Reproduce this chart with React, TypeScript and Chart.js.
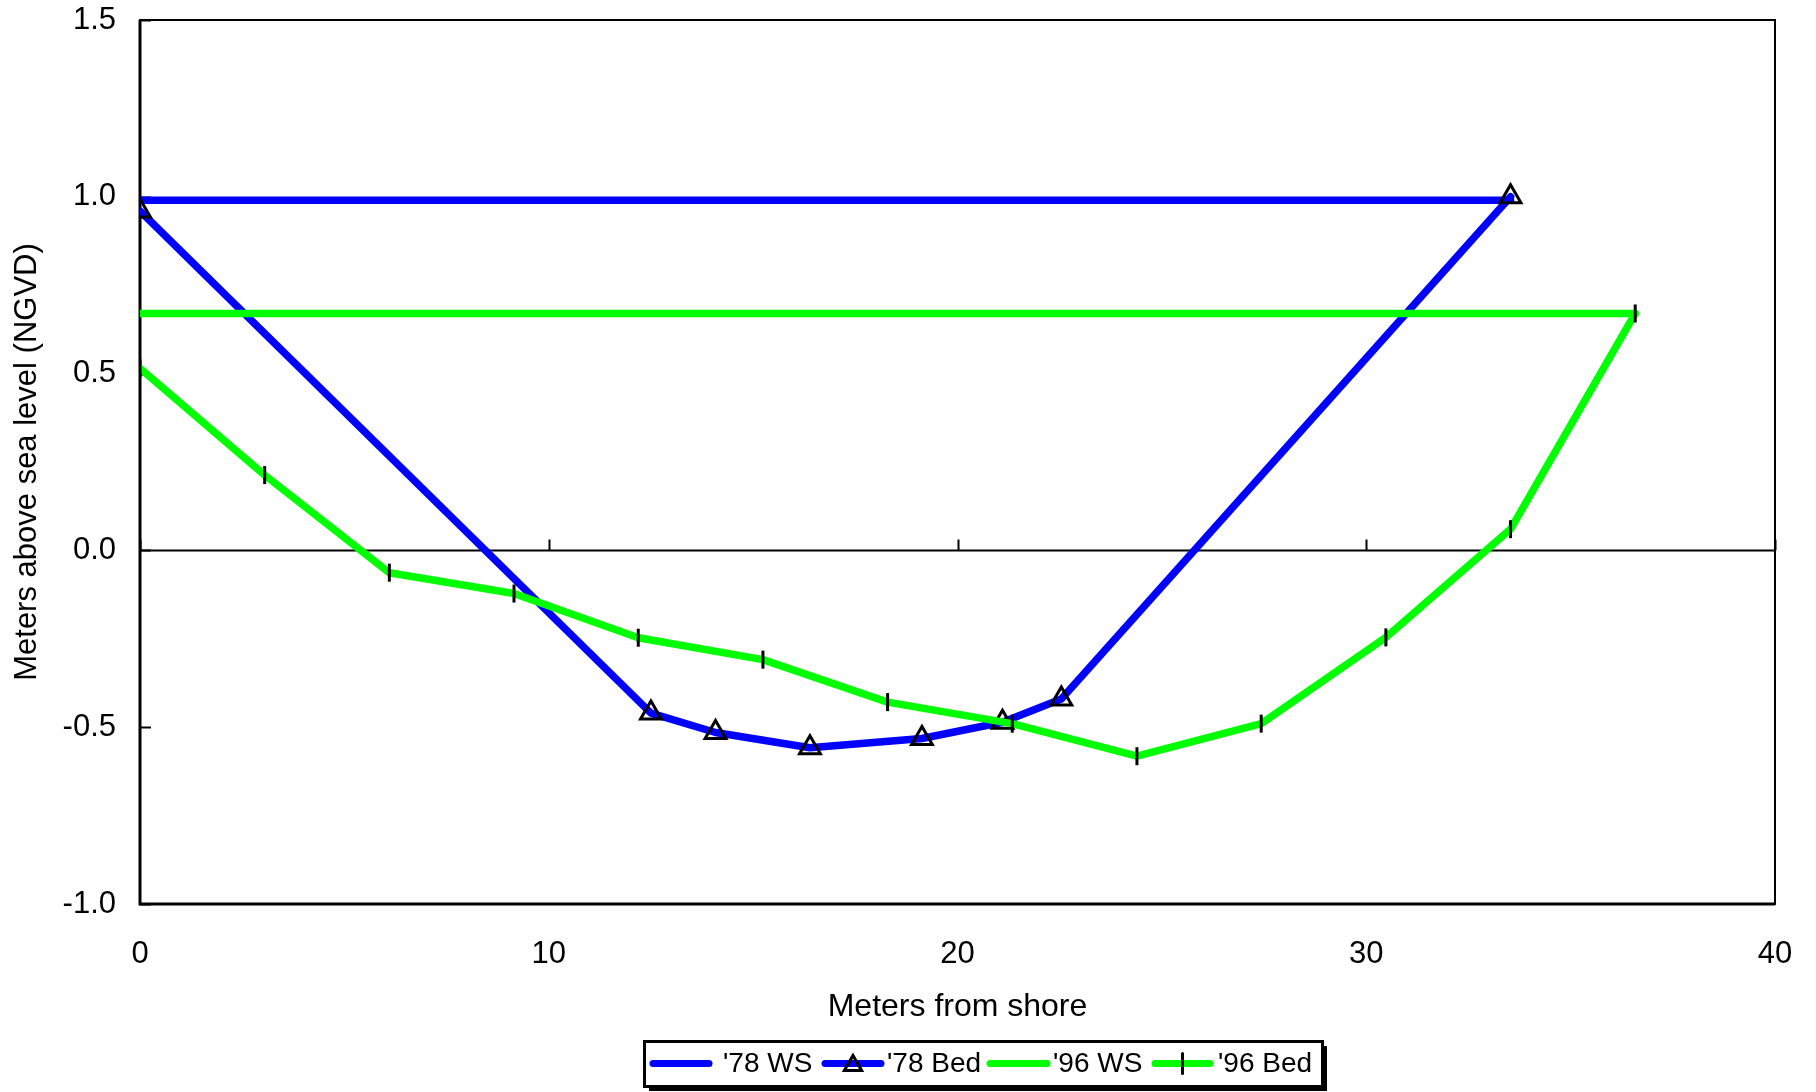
import React, { useEffect, useRef } from 'react';
import { Chart, registerables } from 'chart.js';

Chart.register(...registerables);

// ---- data (meters from shore, meters above sea level) ----
const ws78X = [0, 33.53];
const ws78Y = [0.99, 0.99];

const bed78X = [0, 12.5, 14.08, 16.39, 19.13, 21.1, 22.54, 33.53];
const bed78Y = [0.96, -0.46, -0.515, -0.558, -0.532, -0.486, -0.42, 1.0];

const ws96X = [0, 36.58];
const ws96Y = [0.67, 0.67];

const bed96X = [0, 3.05, 6.1, 9.15, 12.19, 15.24, 18.29, 21.34, 24.39, 27.43, 30.48, 33.53, 36.58];
const bed96Y = [0.515, 0.213, -0.063, -0.122, -0.247, -0.309, -0.429, -0.49, -0.582, -0.49, -0.246, 0.06, 0.67];

const seriesLabels = ["'78 WS", "'78 Bed", "'96 WS", "'96 Bed"];

const xTicks = [0, 10, 20, 30, 40];
const yTicks = [-1.0, -0.5, 0.0, 0.5, 1.0, 1.5];

const xTitle = 'Meters from shore';
const yTitle = 'Meters above sea level (NGVD)';

const FONT = '"Liberation Sans", Arial, Helvetica, sans-serif';
const BLUE = '#0000ff';
const GREEN = '#00ff00';

const toPts = (xs: number[], ys: number[]) => xs.map((x, i) => ({ x, y: ys[i] }));

function drawMarker(ctx: CanvasRenderingContext2D, style: string, x: number, y: number, r: number) {
  ctx.save();
  ctx.strokeStyle = '#000';
  ctx.lineWidth = 3;
  ctx.lineJoin = 'miter';
  ctx.beginPath();
  if (style === 'triangle') {
    ctx.moveTo(x, y - r);
    ctx.lineTo(x + r * 0.866, y + r * 0.5);
    ctx.lineTo(x - r * 0.866, y + r * 0.5);
    ctx.closePath();
  } else if (style === 'vline') {
    ctx.moveTo(x, y - r);
    ctx.lineTo(x, y + r);
  }
  ctx.stroke();
  ctx.restore();
}

const framePlugin = {
  id: 'frameAndTicks',
  beforeDatasetsDraw(chart: any) {
    const { ctx, chartArea: ca, scales } = chart;
    const xs = scales.x;
    const ys = scales.y;
    ctx.save();
    ctx.strokeStyle = '#000';
    // zero line
    const y0 = Math.round(ys.getPixelForValue(0)) + 0.5;
    ctx.lineWidth = 2;
    ctx.beginPath();
    ctx.moveTo(ca.left, y0);
    ctx.lineTo(ca.right, y0);
    ctx.stroke();
    // x tick marks on zero line (upward)
    xTicks.forEach((v) => {
      const px = Math.round(xs.getPixelForValue(v)) + 0.5;
      ctx.beginPath();
      ctx.moveTo(px, y0);
      ctx.lineTo(px, y0 - 11);
      ctx.stroke();
    });
    // y tick marks (inward)
    yTicks.forEach((v) => {
      const py = Math.round(ys.getPixelForValue(v)) + 0.5;
      ctx.beginPath();
      ctx.moveTo(ca.left, py);
      ctx.lineTo(ca.left + 11, py);
      ctx.stroke();
    });
    // frame
    ctx.lineWidth = 2;
    ctx.strokeRect(ca.left, ca.top, ca.right - ca.left, ca.bottom - ca.top);
    ctx.lineWidth = 3;
    ctx.beginPath();
    ctx.moveTo(ca.left, ca.top);
    ctx.lineTo(ca.left, ca.bottom);
    ctx.lineTo(ca.right, ca.bottom);
    ctx.stroke();
    ctx.restore();
  },
};

// legend layout (pixel offsets relative to the legend box's left edge)
const LEG = {
  left: 644,
  top: 1041,
  width: 678,
  height: 45,
  lineStart: [6, 178, 343, 508],
  lineEnd: [68, 240, 406, 569],
  textStart: [79, 243, 409, 574],
};

const legendPlugin = {
  id: 'boxLegend',
  afterDraw(chart: any) {
    const ctx: CanvasRenderingContext2D = chart.ctx;
    const datasets = chart.data.datasets;
    ctx.save();
    const { left, top, width, height } = LEG;
    const cy = top + height / 2;
    ctx.fillStyle = '#000';
    ctx.fillRect(left + 5, top + 5, width, height);
    ctx.fillStyle = '#fff';
    ctx.fillRect(left, top, width, height);
    ctx.strokeStyle = '#000';
    ctx.lineWidth = 3;
    ctx.strokeRect(left + 0.5, top + 0.5, width, height);
    ctx.font = `28px ${FONT}`;
    datasets.forEach((ds: any, i: number) => {
      const x1 = left + LEG.lineStart[i];
      const x2 = left + LEG.lineEnd[i];
      ctx.strokeStyle = ds.borderColor;
      ctx.lineWidth = 7;
      ctx.lineCap = 'round';
      ctx.beginPath();
      ctx.moveTo(x1 + 3, cy);
      ctx.lineTo(x2 - 3, cy);
      ctx.stroke();
      if (ds.legendMarker) {
        drawMarker(ctx, ds.legendMarker, (x1 + x2) / 2, cy + (ds.legendMarker === 'triangle' ? 2 : 0), 10);
      }
      ctx.fillStyle = '#000';
      ctx.textBaseline = 'middle';
      ctx.textAlign = 'left';
      ctx.fillText(ds.label, left + LEG.textStart[i], cy + 1);
    });
    ctx.restore();
  },
};

export default function App() {
  const ref = useRef<HTMLCanvasElement | null>(null);

  useEffect(() => {
    document.body.style.margin = '0';
    const canvas = ref.current;
    if (!canvas) return;
    const base = {
      borderWidth: 7.5,
      borderCapStyle: 'round',
      borderJoinStyle: 'round',
      tension: 0,
      fill: false,
    };
    const chart = new Chart(canvas, {
      type: 'line',
      data: {
        datasets: [
          {
            ...base,
            label: seriesLabels[0],
            data: toPts(ws78X, ws78Y),
            borderColor: BLUE,
            backgroundColor: BLUE,
            pointRadius: 0,
            order: 4,
          },
          {
            ...base,
            label: seriesLabels[1],
            data: toPts(bed78X, bed78Y),
            borderColor: BLUE,
            backgroundColor: 'rgba(0,0,0,0)',
            pointStyle: 'triangle',
            pointRadius: 12,
            pointBorderColor: '#000',
            pointBackgroundColor: 'rgba(0,0,0,0)',
            pointBorderWidth: 3,
            legendMarker: 'triangle',
            order: 3,
          },
          {
            ...base,
            label: seriesLabels[2],
            data: toPts(ws96X, ws96Y),
            borderColor: GREEN,
            backgroundColor: GREEN,
            pointRadius: 0,
            order: 2,
          },
          {
            ...base,
            label: seriesLabels[3],
            data: toPts(bed96X, bed96Y),
            borderColor: GREEN,
            backgroundColor: 'rgba(0,0,0,0)',
            pointStyle: 'line',
            pointRotation: 90,
            pointRadius: 9,
            pointBorderColor: '#000',
            pointBorderWidth: 3,
            legendMarker: 'vline',
            order: 1,
          },
        ] as any,
      },
      options: {
        responsive: false,
        animation: false,
        events: [],
        layout: { padding: { left: 0, right: 41, top: 20, bottom: 0 } },
        plugins: {
          legend: { display: false },
          tooltip: { enabled: false },
        },
        scales: {
          x: {
            type: 'linear',
            min: 0,
            max: 40,
            grid: { display: false },
            border: { display: false },
            afterFit: (s: any) => {
              s.height = 188;
              s.paddingLeft = 0;
              s.paddingRight = 0;
            },
            afterBuildTicks: (s: any) => {
              s.ticks = xTicks.map((v) => ({ value: v }));
            },
            ticks: {
              color: '#000',
              padding: 24,
              font: { size: 31, family: FONT },
              maxRotation: 0,
              callback: (v: any) => String(v),
            },
            title: {
              display: true,
              text: xTitle,
              color: '#000',
              font: { size: 32, family: FONT },
              padding: { top: 0, bottom: 66 },
            },
          },
          y: {
            type: 'linear',
            min: -1,
            max: 1.5,
            grid: { display: false },
            border: { display: false },
            afterFit: (s: any) => {
              s.width = 140;
              s.paddingTop = 0;
              s.paddingBottom = 0;
            },
            afterBuildTicks: (s: any) => {
              s.ticks = yTicks.map((v) => ({ value: v }));
            },
            ticks: {
              color: '#000',
              padding: 16,
              font: { size: 31, family: FONT },
              callback: (v: any) => Number(v).toFixed(1),
            },
            title: {
              display: true,
              text: yTitle,
              color: '#000',
              font: { size: 31, family: FONT },
              padding: { top: 9, bottom: 0 },
            },
          },
        },
      } as any,
      plugins: [framePlugin, legendPlugin],
    });
    return () => chart.destroy();
  }, []);

  return (
    <div style={{ width: 1816, height: 1092, background: '#fff' }}>
      <canvas ref={ref} width={1816} height={1092} style={{ display: 'block' }} />
    </div>
  );
}
